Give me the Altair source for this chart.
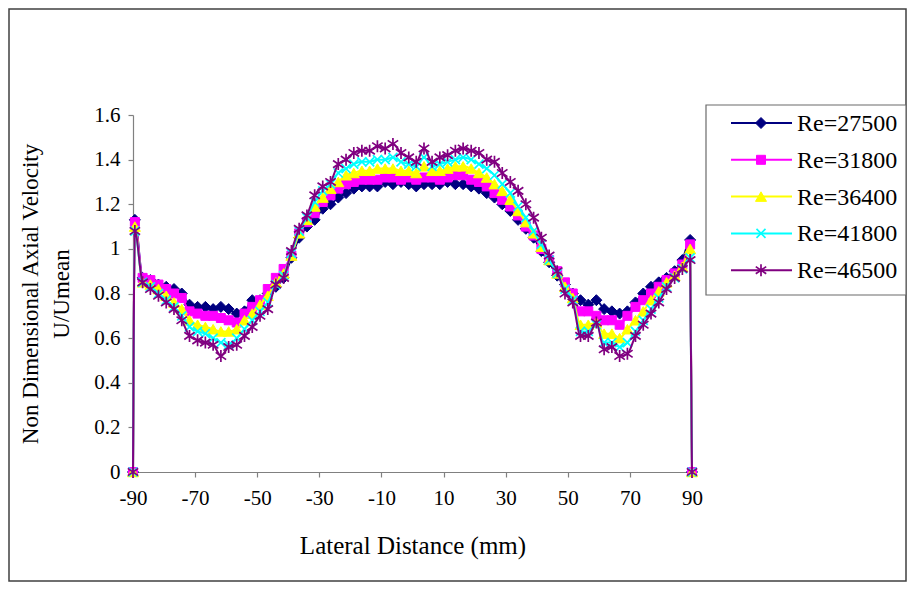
import altair as alt
import pandas as pd

# ---- data ----
X_POS = [-90.0,
         -89.4, -86.9, -84.4, -81.8, -79.3, -76.8, -74.3, -71.8, -69.2, -66.7, -64.2, -61.7,
         -59.2, -56.6, -54.1, -51.6, -49.1, -46.6, -44.0, -41.5, -39.0, -36.5, -34.0, -31.5,
         -28.9, -26.4, -23.9, -21.4, -18.9, -16.3, -13.8, -11.3, -8.8, -6.3, -3.7, -1.2,
         1.2, 3.7, 6.3, 8.8, 11.3, 13.8, 16.3, 18.9, 21.4, 23.9, 26.4, 28.9,
         31.5, 34.0, 36.5, 39.0, 41.5, 44.0, 46.6, 49.1, 51.6, 54.1, 56.6, 59.2,
         61.7, 64.2, 66.7, 69.2, 71.8, 74.3, 76.8, 79.3, 81.8, 84.4, 86.9, 89.4,
         90.0]

RE_27500 = [0.0,
            1.13, 0.87, 0.86, 0.84, 0.83, 0.82, 0.80, 0.75, 0.74, 0.74, 0.73, 0.74,
            0.73, 0.71, 0.72, 0.77, 0.77, 0.80, 0.83, 0.87, 0.96, 1.05, 1.10, 1.13,
            1.18, 1.20, 1.23, 1.25, 1.27, 1.28, 1.28, 1.28, 1.30, 1.29, 1.30, 1.29,
            1.28, 1.29, 1.29, 1.29, 1.30, 1.29, 1.29, 1.28, 1.27, 1.25, 1.23, 1.20,
            1.17, 1.13, 1.09, 1.05, 0.99, 0.94, 0.88, 0.84, 0.80, 0.77, 0.75, 0.77,
            0.73, 0.72, 0.71, 0.72, 0.76, 0.80, 0.83, 0.85, 0.87, 0.90, 0.95, 1.04,
            0.0]

RE_31800 = [0.0,
            1.12, 0.87, 0.86, 0.84, 0.82, 0.80, 0.78, 0.72, 0.71, 0.70, 0.70, 0.69,
            0.68, 0.67, 0.71, 0.74, 0.77, 0.82, 0.87, 0.91, 0.97, 1.07, 1.12, 1.16,
            1.21, 1.24, 1.27, 1.29, 1.30, 1.31, 1.31, 1.31, 1.32, 1.32, 1.31, 1.32,
            1.31, 1.32, 1.32, 1.31, 1.32, 1.33, 1.33, 1.31, 1.30, 1.28, 1.25, 1.22,
            1.19, 1.15, 1.10, 1.06, 1.00, 0.95, 0.90, 0.85, 0.80, 0.72, 0.72, 0.70,
            0.68, 0.68, 0.66, 0.70, 0.74, 0.77, 0.80, 0.83, 0.86, 0.89, 0.93, 1.02,
            0.0]

RE_36400 = [0.0,
            1.10, 0.85, 0.84, 0.82, 0.79, 0.76, 0.73, 0.68, 0.66, 0.65, 0.64, 0.63,
            0.63, 0.64, 0.68, 0.71, 0.75, 0.79, 0.85, 0.89, 0.97, 1.07, 1.13, 1.19,
            1.23, 1.27, 1.30, 1.33, 1.34, 1.35, 1.35, 1.36, 1.36, 1.36, 1.35, 1.35,
            1.34, 1.37, 1.35, 1.35, 1.36, 1.37, 1.37, 1.36, 1.34, 1.32, 1.29, 1.26,
            1.22, 1.17, 1.12, 1.07, 1.01, 0.95, 0.89, 0.83, 0.78, 0.66, 0.66, 0.67,
            0.62, 0.62, 0.60, 0.64, 0.68, 0.72, 0.77, 0.81, 0.85, 0.88, 0.92, 1.00,
            0.0]

RE_41800 = [0.0,
            1.08, 0.85, 0.83, 0.80, 0.77, 0.74, 0.70, 0.65, 0.63, 0.62, 0.60, 0.58,
            0.57, 0.60, 0.64, 0.68, 0.72, 0.76, 0.84, 0.88, 0.98, 1.08, 1.14, 1.21,
            1.26, 1.29, 1.34, 1.36, 1.38, 1.39, 1.39, 1.40, 1.40, 1.41, 1.39, 1.38,
            1.37, 1.41, 1.37, 1.38, 1.39, 1.40, 1.41, 1.40, 1.38, 1.36, 1.33, 1.29,
            1.25, 1.19, 1.14, 1.08, 1.02, 0.95, 0.89, 0.82, 0.77, 0.63, 0.63, 0.66,
            0.58, 0.58, 0.56, 0.58, 0.63, 0.68, 0.73, 0.78, 0.83, 0.87, 0.91, 0.96,
            0.0]

RE_46500 = [0.0,
            1.08, 0.85, 0.82, 0.79, 0.76, 0.73, 0.68, 0.61, 0.59, 0.58, 0.57, 0.52,
            0.56, 0.57, 0.61, 0.65, 0.70, 0.73, 0.84, 0.87, 0.99, 1.09, 1.15, 1.24,
            1.28, 1.30, 1.38, 1.40, 1.43, 1.44, 1.44, 1.46, 1.45, 1.47, 1.43, 1.41,
            1.39, 1.45, 1.39, 1.41, 1.42, 1.44, 1.45, 1.44, 1.43, 1.40, 1.39, 1.34,
            1.30, 1.26, 1.20, 1.14, 1.05, 0.97, 0.90, 0.80, 0.76, 0.61, 0.61, 0.67,
            0.55, 0.56, 0.52, 0.53, 0.61, 0.66, 0.71, 0.76, 0.82, 0.87, 0.91, 0.95,
            0.0]

SERIES_NAMES = ["Re=27500", "Re=31800", "Re=36400", "Re=41800", "Re=46500"]
SERIES_VALUES = [RE_27500, RE_31800, RE_36400, RE_41800, RE_46500]

X_TICKS = [-90, -70, -50, -30, -10, 10, 30, 50, 70, 90]
Y_TICKS = [0, 0.2, 0.4, 0.6, 0.8, 1, 1.2, 1.4, 1.6]

# ---- styles ----
COLORS = ["#000080", "#FF00FF", "#FFFF00", "#00FFFF", "#800080"]
X_PATH = "M-1,-1L1,1M-1,1L1,-1"
STAR_PATH = "M0,-1L0,1M-0.87,-0.6L0.87,0.6M-0.87,0.6L0.87,-0.6"
MARKERS = [
    dict(shape="diamond", filled=True, size=121, strokeWidth=1),
    dict(shape="square", filled=True, size=81, strokeWidth=1),
    dict(shape="triangle-up", filled=True, size=121, strokeWidth=1),
    dict(shape=X_PATH, filled=False, size=81, strokeWidth=1.7),
    dict(shape=STAR_PATH, filled=False, size=144, strokeWidth=1.7),
]

FONT = "Liberation Serif"
W, H = 559, 357

x_enc = alt.X("x:Q",
              scale=alt.Scale(domain=[-90, 90], nice=False, zero=False),
              axis=alt.Axis(values=X_TICKS, title="Lateral Distance (mm)", grid=False,
                            labelExpr="toString(datum.value)", labelFlush=False,
                            labelPadding=10, titlePadding=25, tickSize=5,
                            labelFontSize=21, titleFontSize=25))
y_enc = alt.Y("y:Q",
              scale=alt.Scale(domain=[0, 1.6], nice=False),
              axis=alt.Axis(values=Y_TICKS, grid=False,
                            labelExpr="toString(datum.value)", labelFlush=False,
                            title=["Non Dimensional Axial Velocity", "U/Umean"],
                            titleLineHeight=31, labelPadding=8, titlePadding=20, tickSize=5,
                            labelFontSize=21, titleFontSize=23))

layers = []
for name, vals, col, mk in zip(SERIES_NAMES, SERIES_VALUES, COLORS, MARKERS):
    df = pd.DataFrame({"x": X_POS, "y": vals, "series": name})
    line = alt.Chart(df).mark_line(color=col, strokeWidth=2, interpolate="monotone").encode(
        x=x_enc, y=y_enc)
    pt_kwargs = dict(shape=mk["shape"], filled=mk["filled"], size=mk["size"],
                     stroke=col, strokeWidth=mk["strokeWidth"], opacity=1)
    if mk["filled"]:
        pt_kwargs["fill"] = col
    pts = alt.Chart(df).mark_point(**pt_kwargs).encode(x=x_enc, y=y_enc)
    layers += [line, pts]

# ---- legend box (drawn manually so that entries show line + marker) ----
LEG_X0, LEG_X1, LEG_Y0, LEG_Y1 = 573, 773, -10, 180
LEG_ROW0, LEG_ROW_STEP = 8, 36.8
one = pd.DataFrame({"k": [0]})
legend_layers = [
    alt.Chart(one).mark_rect(fill="white", stroke="#6b6b6b", strokeWidth=1.2).encode(
        x=alt.value(LEG_X0), x2=alt.value(LEG_X1), y=alt.value(LEG_Y0), y2=alt.value(LEG_Y1))
]
for i, (name, col, mk) in enumerate(zip(SERIES_NAMES, COLORS, MARKERS)):
    ry = LEG_ROW0 + i * LEG_ROW_STEP
    lab = pd.DataFrame({"label": [name]})
    legend_layers.append(
        alt.Chart(lab).mark_rule(color=col, strokeWidth=2).encode(
            x=alt.value(598), x2=alt.value(659), y=alt.value(ry)))
    pk = dict(shape=mk["shape"], filled=mk["filled"], size=mk["size"],
              stroke=col, strokeWidth=mk["strokeWidth"], opacity=1)
    if mk["filled"]:
        pk["fill"] = col
    legend_layers.append(
        alt.Chart(lab).mark_point(**pk).encode(x=alt.value(628), y=alt.value(ry)))
    legend_layers.append(
        alt.Chart(lab).mark_text(align="left", baseline="middle", font=FONT, fontSize=24,
                                 color="black").encode(
            x=alt.value(664), y=alt.value(ry + 1), text="label:N"))

# ---- outer chart border ----
border = alt.Chart(one).mark_rect(fill=None, stroke="#404040", strokeWidth=1.5).encode(
    x=alt.value(-124), x2=alt.value(W + 214), y=alt.value(-106), y2=alt.value(H + 109))

chart = alt.layer(border, *layers, *legend_layers).properties(
    width=W, height=H,
    autosize=alt.AutoSizeParams(type="none"),
    padding={"left": 125, "top": 107, "right": 215, "bottom": 110},
).configure_view(stroke=None).configure_axis(
    domainColor="#808080", tickColor="#808080", domainWidth=1.2, tickWidth=1.2,
    labelFont=FONT, labelColor="black",
    titleFont=FONT, titleFontWeight="normal", titleColor="black",
)

chart.save("out.html", embed_options={"renderer": "svg", "actions": False})
